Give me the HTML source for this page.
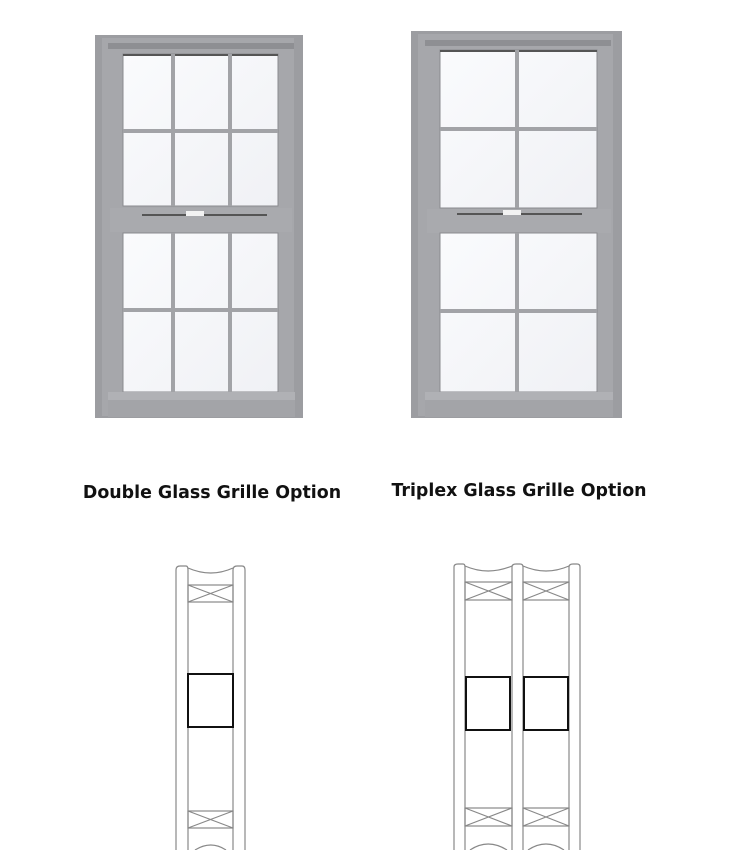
<!DOCTYPE html>
<html><head><meta charset="utf-8"><style>
html,body{margin:0;padding:0;background:#fff;width:750px;height:850px;overflow:hidden}
svg{display:block}
text{font-family:"DejaVu Sans","Liberation Sans",sans-serif;font-weight:bold;font-size:17.4px;fill:#111}
</style></head><body>
<svg width="750" height="850" viewBox="0 0 750 850" xmlns="http://www.w3.org/2000/svg">
<defs>
<linearGradient id="gl" x1="0" y1="0" x2="1" y2="1"><stop offset="0" stop-color="#fafbfd"/><stop offset="1" stop-color="#f0f1f5"/></linearGradient>
</defs>
<!-- LEFT WINDOW -->
<g>
<rect x="95" y="35" width="208" height="383" fill="#9c9da1"/>
<rect x="102" y="38" width="192" height="378" fill="#a6a7ab"/>
<rect x="108" y="43" width="186" height="6" fill="#8e8f93"/>
<rect x="123" y="54" width="155" height="152" fill="url(#gl)" stroke="#8a8b8f"/>
<rect x="123" y="54" width="155" height="2" fill="#555"/>
<rect x="171" y="54" width="4" height="152" fill="#a2a3a7"/>
<rect x="228" y="54" width="4" height="152" fill="#a2a3a7"/>
<rect x="123" y="129" width="155" height="4" fill="#a2a3a7"/>
<rect x="110" y="208" width="182" height="24" fill="#a9aaae"/>
<rect x="142" y="214" width="125" height="2" fill="#555"/>
<rect x="186" y="211" width="18" height="5" fill="#f2f2f2"/>
<rect x="123" y="233" width="155" height="159" fill="url(#gl)" stroke="#8a8b8f"/>
<rect x="171" y="233" width="4" height="159" fill="#a2a3a7"/>
<rect x="228" y="233" width="4" height="159" fill="#a2a3a7"/>
<rect x="123" y="308" width="155" height="4" fill="#a2a3a7"/>
<rect x="108" y="392" width="187" height="8" fill="#b0b1b5"/>
<rect x="108" y="400" width="187" height="17" fill="#a3a4a8"/>
</g>
<!-- RIGHT WINDOW -->
<g>
<rect x="411" y="31" width="211" height="387" fill="#9c9da1"/>
<rect x="418" y="34" width="195" height="382" fill="#a6a7ab"/>
<rect x="425" y="40" width="186" height="6" fill="#8e8f93"/>
<rect x="440" y="50" width="157" height="158" fill="url(#gl)" stroke="#8a8b8f"/>
<rect x="440" y="50" width="157" height="2" fill="#555"/>
<rect x="515" y="50" width="4" height="158" fill="#a2a3a7"/>
<rect x="440" y="127" width="157" height="4" fill="#a2a3a7"/>
<rect x="427" y="209" width="184" height="24" fill="#a9aaae"/>
<rect x="457" y="213" width="125" height="2" fill="#555"/>
<rect x="503" y="210" width="18" height="5" fill="#f2f2f2"/>
<rect x="440" y="233" width="157" height="159" fill="url(#gl)" stroke="#8a8b8f"/>
<rect x="515" y="233" width="4" height="159" fill="#a2a3a7"/>
<rect x="440" y="309" width="157" height="4" fill="#a2a3a7"/>
<rect x="425" y="392" width="188" height="8" fill="#b0b1b5"/>
<rect x="425" y="400" width="188" height="17" fill="#a3a4a8"/>
</g>
<text x="212" y="498" text-anchor="middle">Double Glass Grille Option</text>
<text x="519" y="496" text-anchor="middle">Triplex Glass Grille Option</text>
<!-- LEFT SECTION -->
<g fill="none" stroke="#888" stroke-width="1.2">
<path d="M176 570 Q176 566 180 566 L186 566 Q188 566 188 570 L188 850 M176 570 L176 850"/>
<path d="M233 570 Q233 566 237 566 L242 566 Q245 566 245 570 L245 850 M233 570 L233 850"/>
<path d="M188 568 Q211 578 233 568"/>
<rect x="188" y="585" width="45" height="17"/>
<path d="M188 585 L233 602 M233 585 L188 602"/>
<rect x="188" y="811" width="45" height="17"/>
<path d="M188 811 L233 828 M233 811 L188 828"/>
<path d="M195 850 Q211 840 226 850"/>
</g>
<rect x="188" y="674" width="45" height="53" fill="none" stroke="#111" stroke-width="2"/>
<!-- RIGHT SECTION -->
<g fill="none" stroke="#888" stroke-width="1.2">
<path d="M454 567 Q454 564 458 564 L463 564 Q465 564 465 567 L465 850 M454 567 L454 850"/>
<path d="M512 567 Q512 564 516 564 L520 564 Q523 564 523 567 L523 850 M512 567 L512 850"/>
<path d="M569 567 Q569 564 573 564 L577 564 Q580 564 580 567 L580 850 M569 567 L569 850"/>
<path d="M465 566 Q488 576 512 566 M523 566 Q546 576 569 566"/>
<rect x="465" y="582" width="47" height="18"/><path d="M465 582 L512 600 M512 582 L465 600"/>
<rect x="523" y="582" width="46" height="18"/><path d="M523 582 L569 600 M569 582 L523 600"/>
<rect x="465" y="808" width="47" height="18"/><path d="M465 808 L512 826 M512 808 L465 826"/>
<rect x="523" y="808" width="46" height="18"/><path d="M523 808 L569 826 M569 808 L523 826"/>
<path d="M470 850 Q488 838 507 850 M528 850 Q546 838 564 850"/>
</g>
<rect x="466" y="677" width="44" height="53" fill="none" stroke="#111" stroke-width="2"/>
<rect x="524" y="677" width="44" height="53" fill="none" stroke="#111" stroke-width="2"/>
</svg>
</body></html>
